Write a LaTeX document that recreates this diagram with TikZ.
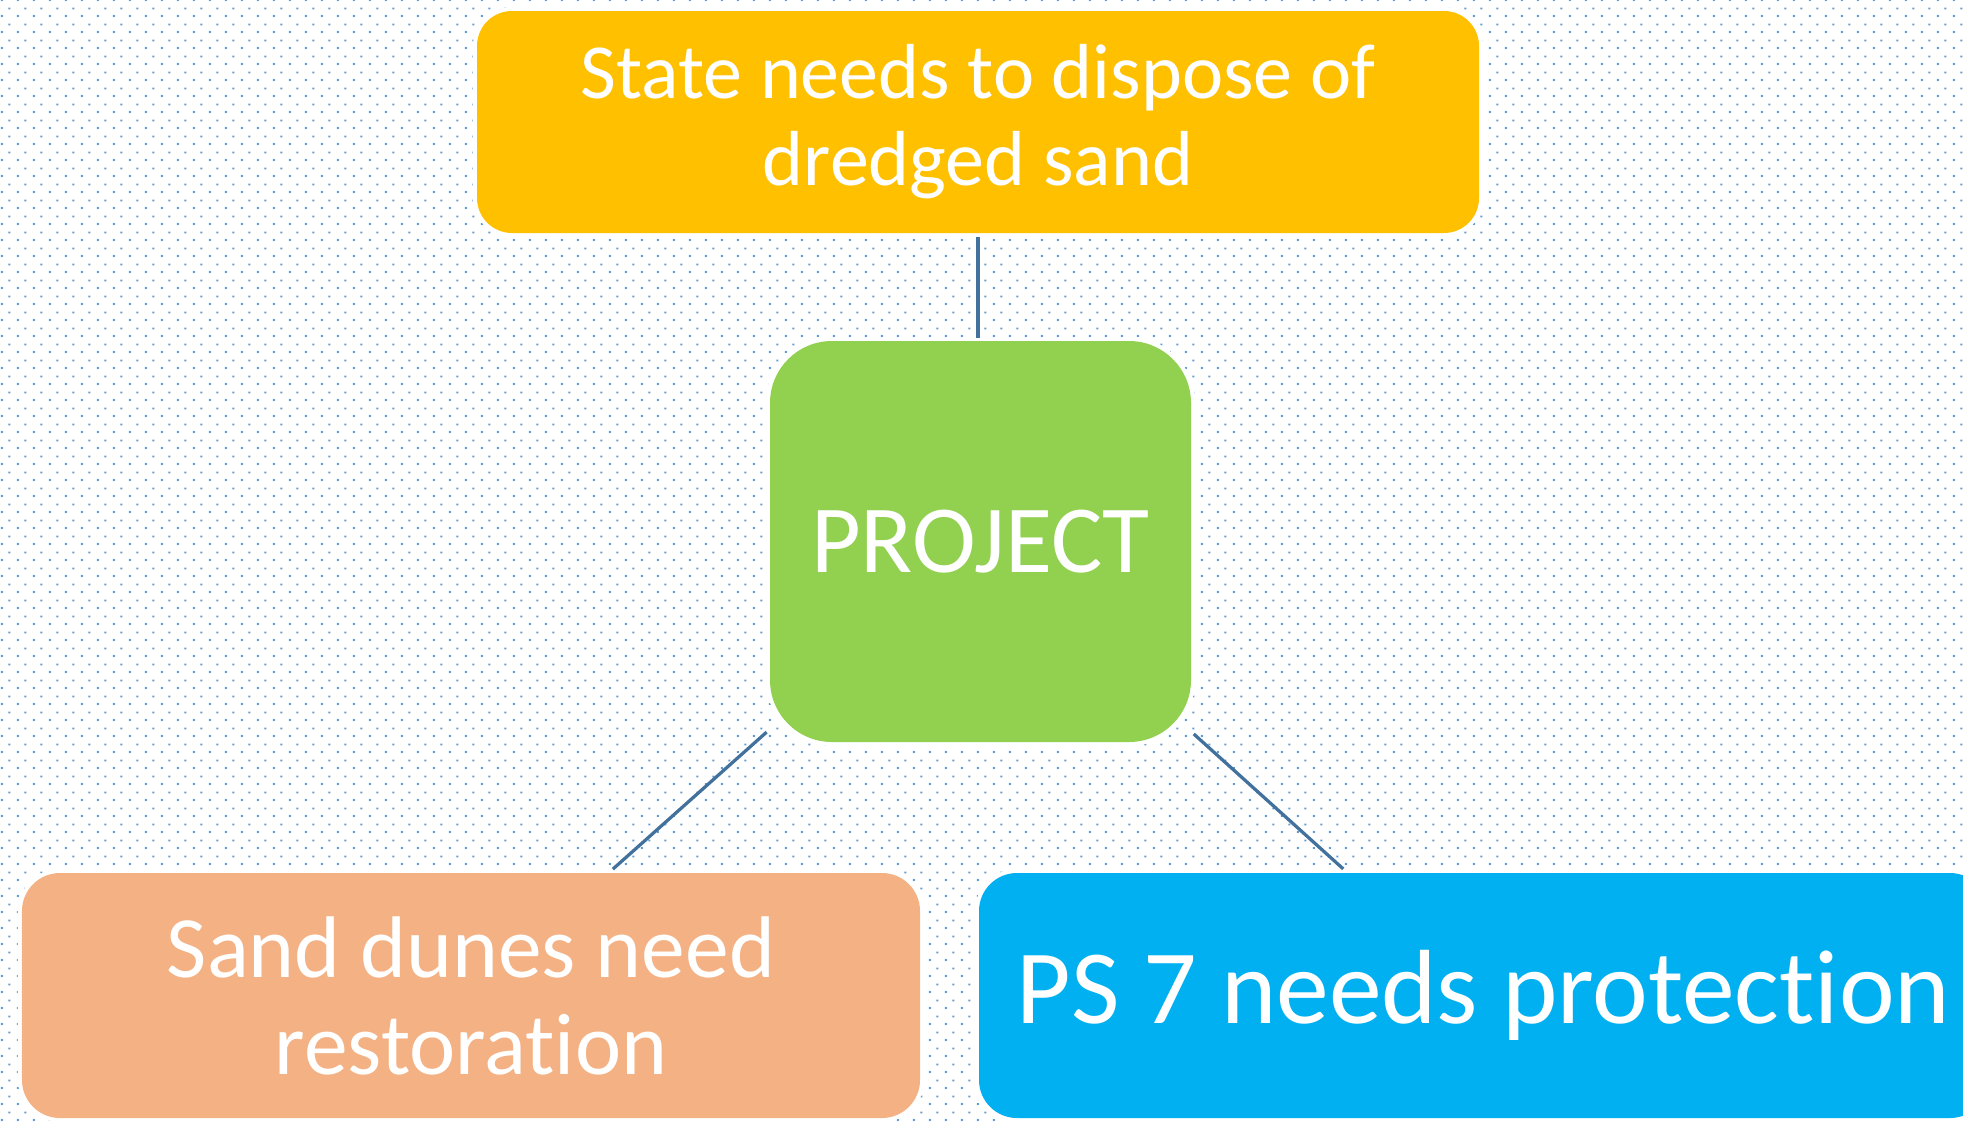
\documentclass[tikz,border=0pt]{standalone}
\usepackage{fontspec}
\setmainfont{Carlito}[RawFeature={-liga;-clig;-dlig}]
\usetikzlibrary{patterns,calc}
\definecolor{dotblue}{HTML}{5B9BD5}
\definecolor{linkblue}{HTML}{41719C}
\definecolor{boxyellow}{HTML}{FFC000}
\definecolor{boxgreen}{HTML}{92D050}
\definecolor{boxorange}{HTML}{F4B183}
\definecolor{boxblue}{HTML}{00B0F0}
\pgfdeclarepatternformonly{dotgrid}{\pgfpoint{0pt}{0pt}}{\pgfpoint{6.4pt}{6.4pt}}{\pgfpoint{6.4pt}{6.4pt}}{%
  \pgfpathrectangle{\pgfpoint{0.8pt}{0pt}}{\pgfpoint{0.8pt}{0.8pt}}%
  \pgfpathrectangle{\pgfpoint{4.0pt}{3.2pt}}{\pgfpoint{0.8pt}{0.8pt}}%
  \pgfusepath{fill}}
\begin{document}
\begin{tikzpicture}[x=0.4pt,y=-0.4pt,
  box/.style={rectangle, inner sep=0pt, outer sep=0pt, text=white, align=center,
    preaction={draw=white, line width=3.2pt}},
  link/.style={draw=linkblue, line width=1.3pt}]
\useasboundingbox (0,0) rectangle (1963,1120);
\clip (0,0) rectangle (1963,1120);
\fill[white] (0,0) rectangle (1963,1120);
\fill[pattern=dotgrid, pattern color=dotblue] (0,0) rectangle (1963,1120);

\node[box, fill=boxyellow, rounded corners=14pt, minimum width=400.8pt, minimum height=88.8pt,
  font=\fontsize{31.2pt}{34.8pt}\selectfont] (state) at (978,122) {State needs to dispose of\\dredged sand};
\node[box, fill=boxgreen, rounded corners=24.8pt, minimum width=168.4pt, minimum height=160.4pt,
  font=\fontsize{38.5pt}{44pt}\selectfont] (proj) at (980.5,541.5) {PROJECT};
\node[box, fill=boxorange, rounded corners=15.2pt, minimum width=359.2pt, minimum height=98pt,
  font=\fontsize{35pt}{38.8pt}\selectfont] (sand) at (471,995.5) {Sand dunes need\\restoration};
\node[box, fill=boxblue, rounded corners=15.2pt, minimum width=403.6pt, minimum height=98pt,
  font=\fontsize{42.2pt}{48pt}\selectfont] (ps) at (1483.5,995.5) {\raisebox{-2.4pt}{PS 7 needs protection}};

\draw[link, shorten <=1.6pt, shorten >=1.2pt] (state.south) -- (state.south |- proj.north);
\draw[link, shorten <=114.6pt, shorten >=76pt] (proj.center) -- (sand.center);
\draw[link, shorten <=114.9pt, shorten >=75.6pt] (proj.center) -- (ps.center);
\end{tikzpicture}
\end{document}
